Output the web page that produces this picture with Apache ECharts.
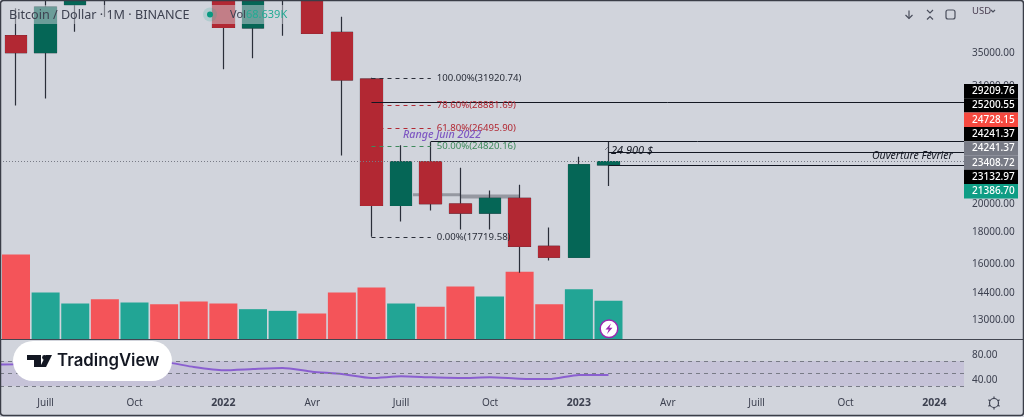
<!DOCTYPE html>
<html>
<head>
<meta charset="utf-8">
<style>
  html, body { margin: 0; padding: 0; background: #d1d4dc; }
  #chart { width: 1024px; height: 417px; }
</style>
<script src="https://cdn.jsdelivr.net/npm/echarts@6/dist/echarts.min.js"></script>
</head>
<body>
<div id="chart"></div>
<script>
// month index 0 = June 2021, one candle per month
const openValues  = [37300, 35045, 41840, 47100, 43800, 61300, 56900, 46200, 38400, 43160, 45500, 37750, 31760, 19900, 23390, 20010, 19350, 20430, 17110, 16430, 23132.97];
const closeValues = [35040, 41460, 47100, 43800, 61300, 56900, 46200, 38460, 43160, 45500, 37630, 31670, 19900, 23390, 20030, 19350, 20430, 17110, 16430, 23132.97, 23408.72];
const lowValues   = [28800, 29560, 37860, 39980, 43000, 53000, 42800, 32960, 34320, 37300, 37600, 23950, 17720, 18760, 19540, 18200, 18200, 15510, 16240, 16430, 21386.7];
const highValues  = [41300, 42450, 50500, 52900, 67000, 69000, 59000, 47900, 45800, 48200, 47400, 40000, 31920, 24870, 25200, 22890, 21030, 21490, 18350, 23840, 25200.55];
const volumeValues = [151.1, 83.6, 64, 71.7, 65.8, 62.8, 67.6, 64, 53.9, 50.9, 46.2, 83.6, 92.5, 64, 58, 94.2, 76.5, 120.2, 62.8, 89.4, 68.639];
// starts one month before the first candle
const rsiValues = [64, 64.6, 66, 68, 66, 70, 68.5, 60.3, 55, 57, 58.7, 52.8, 49, 42.7, 45.4, 43.8, 42.7, 43.8, 41.6, 41, 47.5, 47.5];

const monthTicks = [1, 4, 7, 10, 13, 16, 19, 22, 25, 28, 31];
const monthLabels = ['Juill', 'Oct', '2022', 'Avr', 'Juill', 'Oct', '2023', 'Avr', 'Juill', 'Oct', '2024'];
const priceTicks = [13000, 14400, 16000, 18000, 20000, 31000, 35000];
const rsiTicks = [40, 80];
const rsiGuides = [70, 50, 30];

const fibPrices = [31920.74, 28881.69, 26495.90, 24820.16, 17719.58];
const fibNames = ['100.00%', '78.60%', '61.80%', '50.00%', '0.00%'];
const fibColors = ['#2a2e39', '#b22833', '#b22833', '#3f8a5c', '#2a2e39'];

const levelPrices = [29209.76, 25200.55, 24241.37, 23132.97];
const levelStarts = [12, 14, 20, 20];
const lastPrice = 23408.72;

const tagTexts = ['29209.76', '25200.55', '24728.15', '24241.37', '24241.37', '23408.72', '23132.97', '21386.70'];
const tagColors = ['#000000', '#000000', '#f6493f', '#000000', '#787b86', '#787b86', '#000000', '#0e9d85'];

const font = '"Noto Sans", sans-serif';
const axisColor = '#3d4150';
const bull = '#056656', bear = '#b22833';
const volUp = '#22a595', volDown = '#f45459';

const months = volumeValues.map((v, i) => i);
const isUp = i => closeValues[i] >= openValues[i];

const wickData = months.map(i => [i, openValues[i], closeValues[i], lowValues[i], highValues[i]]);
const bodyData = months.map(i => {
    const top = Math.max(openValues[i], closeValues[i]);
    const bot = Math.min(openValues[i], closeValues[i]);
    return [i, openValues[i], closeValues[i], bot, top];
});

const chart = echarts.init(document.getElementById('chart'));

const mainGrid = { left: 0, top: 0, width: 964, height: 339.5 };

// horizontal levels + fib, all behind the candle bodies
const markLines = [];
levelPrices.forEach((p, i) => {
    markLines.push([
        { coord: [levelStarts[i], p], lineStyle: { color: '#131722', width: 1, type: 'solid' }, label: { show: false } },
        { coord: [32, p] }
    ]);
});
markLines.push([
    { coord: [-0.54, lastPrice], lineStyle: { color: '#787b86', width: 1, type: [1, 2] }, label: { show: false } },
    { coord: [32, lastPrice] }
]);
fibPrices.forEach((p, i) => {
    markLines.push([
        {
            coord: [12, p],
            lineStyle: { color: fibColors[i], width: 1, type: [4, 4] },
            label: {
                show: true, position: 'end', distance: 6, color: fibColors[i], fontSize: 9.6, fontFamily: font,
                formatter: fibNames[i] + '(' + p.toFixed(2) + ')'
            }
        },
        { coord: [14, p] }
    ]);
});

const graphics = [];

// legend veil + text
graphics.push({ type: 'rect', z: 50, shape: { x: 4, y: 5, width: 280, height: 19 }, style: { fill: 'rgba(209,212,220,0.5)' } });
graphics.push({ type: 'text', z: 51, x: 9, y: 15, style: { text: 'Bitcoin / Dollar · 1M · BINANCE', fill: '#3d4150', font: '12.6px ' + font, verticalAlign: 'middle' } });
graphics.push({ type: 'circle', z: 51, shape: { cx: 210, cy: 14.5, r: 7 }, style: { fill: 'rgba(34,171,148,0.18)' } });
graphics.push({ type: 'circle', z: 51, shape: { cx: 210, cy: 14.5, r: 3 }, style: { fill: '#089981' } });
graphics.push({ type: 'text', z: 51, x: 230, y: 15, style: { text: 'Vol', fill: '#3d4150', font: '11px ' + font, verticalAlign: 'middle' } });
graphics.push({ type: 'text', z: 51, x: 246, y: 15, style: { text: '68.639K', fill: '#22ab94', font: '11px ' + font, verticalAlign: 'middle' } });

// notes drawn on the chart
graphics.push({ type: 'text', z: 51, x: 403, y: 134.5, style: { text: 'Range Juin 2022', fill: '#7e57c2', font: 'italic 500 10.7px ' + font, verticalAlign: 'middle' } });
graphics.push({ type: 'text', z: 51, x: 611, y: 151, style: { text: '24 900 $', fill: '#131722', font: 'italic 11px ' + font, verticalAlign: 'middle' } });
graphics.push({ type: 'text', z: 51, x: 872, y: 156.5, style: { text: 'Ouverture Février', fill: '#131722', font: 'italic 10.5px ' + font, verticalAlign: 'middle' } });
graphics.push({ type: 'line', z: 51, shape: { x1: 605, y1: 150, x2: 608, y2: 147 }, style: { stroke: '#787b86', lineWidth: 1 } });

// price tags on the right
tagTexts.forEach((t, i) => {
    graphics.push({ type: 'rect', z: 60, shape: { x: 964, y: 84 + i * 14.3, width: 54, height: 14.3 }, style: { fill: tagColors[i] } });
    graphics.push({ type: 'text', z: 61, x: 972, y: 91.3 + i * 14.3, style: { text: t, fill: '#ffffff', font: '500 10px ' + font, verticalAlign: 'middle' } });
});

// TradingView badge
graphics.push({ type: 'rect', z: 70, shape: { x: 13, y: 341, width: 159, height: 40, r: 20 }, style: { fill: '#ffffff' } });
graphics.push({ type: 'polygon', z: 71, shape: { points: [[27, 355], [41, 355], [41, 367], [34, 367], [34, 360], [27, 360]] }, style: { fill: '#131722' } });
graphics.push({ type: 'circle', z: 71, shape: { cx: 44.5, cy: 357.5, r: 2.4 }, style: { fill: '#131722' } });
graphics.push({ type: 'polygon', z: 71, shape: { points: [[46, 355], [52, 355], [46, 367], [40, 367]] }, style: { fill: '#131722' } });
graphics.push({ type: 'text', z: 71, x: 57, y: 361, style: { text: 'TradingView', fill: '#131722', font: '600 16.8px Inter, sans-serif', verticalAlign: 'middle' } });

// lightning badge on last volume bar
graphics.push({ type: 'circle', z: 40, shape: { cx: 609, cy: 328.7, r: 8.8 }, style: { fill: '#ffffff', stroke: '#9c27b0', lineWidth: 1.5 } });
graphics.push({ type: 'polygon', z: 41, shape: { points: [[611, 323.5], [605.5, 329.5], [608.7, 329.5], [607, 334], [612.5, 327.8], [609.3, 327.8]] }, style: { fill: '#9c27b0' } });

// top right toolbar
graphics.push({ type: 'polyline', z: 51, shape: { points: [[909, 10.5], [909, 18.5]] }, style: { stroke: '#4a4e5c', lineWidth: 1.2, fill: null } });
graphics.push({ type: 'polyline', z: 51, shape: { points: [[905.5, 15], [909, 18.5], [912.5, 15]] }, style: { stroke: '#4a4e5c', lineWidth: 1.2, fill: null } });
graphics.push({ type: 'polyline', z: 51, shape: { points: [[927, 10], [930, 13], [933, 10]] }, style: { stroke: '#4a4e5c', lineWidth: 1.2, fill: null } });
graphics.push({ type: 'polyline', z: 51, shape: { points: [[927, 19.5], [930, 16.5], [933, 19.5]] }, style: { stroke: '#4a4e5c', lineWidth: 1.2, fill: null } });
graphics.push({ type: 'rect', z: 51, shape: { x: 946, y: 10, width: 9, height: 9, r: 2 }, style: { stroke: '#4a4e5c', lineWidth: 1.2, fill: null } });
graphics.push({ type: 'text', z: 51, x: 972, y: 11, style: { text: 'USD', fill: '#4a3d50', font: '9.5px ' + font, verticalAlign: 'middle' } });
graphics.push({ type: 'polyline', z: 51, shape: { points: [[991, 10], [993, 12], [995, 10]] }, style: { stroke: '#4a4e5c', lineWidth: 1.2, fill: null } });

// settings gear
graphics.push({ type: 'circle', z: 51, shape: { cx: 994, cy: 403, r: 4.5 }, style: { stroke: '#3d4150', lineWidth: 1.2, fill: null } });
[0, 60, 120, 180, 240, 300].forEach(a => {
    const r = a * Math.PI / 180;
    graphics.push({
        type: 'line', z: 51,
        shape: { x1: 994 + Math.sin(r) * 4.5, y1: 403 - Math.cos(r) * 4.5, x2: 994 + Math.sin(r) * 6.5, y2: 403 - Math.cos(r) * 6.5 },
        style: { stroke: '#3d4150', lineWidth: 1.2 }
    });
});

// pane separator and frame
graphics.push({ type: 'line', z: 30, shape: { x1: 0, y1: 339.5, x2: 1024, y2: 339.5 }, style: { stroke: '#434651', lineWidth: 1 } });
graphics.push({ type: 'rect', z: 90, shape: { x: 0.5, y: 0.5, width: 1023, height: 415, r: 3 }, style: { stroke: '#3a3d47', lineWidth: 1.5, fill: null } });

const option = {
    backgroundColor: '#d1d4dc',
    animation: false,
    grid: [
        mainGrid,
        { left: 0, top: 0, width: 964, height: 339.5 },
        { left: 0, top: 340, width: 964, height: 52 }
    ],
    xAxis: [0, 1, 2].map(g => ({
        type: 'value',
        gridIndex: g,
        min: -0.54,
        max: 32,
        show: g === 2,
        splitLine: { show: false },
        axisLine: { show: false },
        axisTick: { show: false },
        axisLabel: {
            show: g === 2,
            customValues: monthTicks,
            margin: 6,
            color: axisColor,
            fontSize: 10,
            fontFamily: font,
            formatter: function (value) {
                const text = monthLabels[monthTicks.indexOf(value)];
                return /^\d+$/.test(text) ? '{year|' + text + '}' : text;
            },
            rich: { year: { fontWeight: 'bold', fontSize: 10.5, color: axisColor, fontFamily: font } }
        }
    })),
    yAxis: [
        {
            type: 'log',
            gridIndex: 0,
            position: 'right',
            min: 12118,
            max: 42570,
            splitLine: { show: false },
            axisLine: { show: false },
            axisTick: { show: false },
            axisLabel: {
                customValues: priceTicks,
                margin: 8,
                color: axisColor,
                fontSize: 10,
                fontFamily: font,
                formatter: v => Number(v).toFixed(2)
            }
        },
        {
            type: 'value',
            gridIndex: 1,
            min: 0,
            max: 603.3,
            show: false,
            splitLine: { show: false }
        },
        {
            type: 'value',
            gridIndex: 2,
            position: 'right',
            min: 20.3,
            max: 103.5,
            splitLine: { show: false },
            axisLine: { show: false },
            axisTick: { show: false },
            axisLabel: {
                customValues: rsiTicks,
                margin: 8,
                color: axisColor,
                fontSize: 10,
                fontFamily: font,
                formatter: v => Number(v).toFixed(2)
            }
        }
    ],
    series: [
        {
            name: 'Vol',
            type: 'bar',
            xAxisIndex: 1,
            yAxisIndex: 1,
            z: 1,
            barWidth: 28,
            data: months.map(i => ({
                value: [i, volumeValues[i]],
                itemStyle: { color: isUp(i) ? volUp : volDown }
            }))
        },
        {
            name: 'Range',
            type: 'line',
            xAxisIndex: 0,
            yAxisIndex: 0,
            z: 2,
            symbol: 'none',
            lineStyle: { color: '#9598a1', width: 3 },
            data: [[13.4, 20710], [15, 20710]]
        },
        {
            name: 'Range 2',
            type: 'line',
            xAxisIndex: 0,
            yAxisIndex: 0,
            z: 2,
            symbol: 'none',
            lineStyle: { color: '#9598a1', width: 4 },
            data: [[15, 20580], [17, 20580]]
        },
        {
            name: 'BTC wicks',
            type: 'candlestick',
            xAxisIndex: 0,
            yAxisIndex: 0,
            z: 3,
            barWidth: 22,
            encode: { x: 0, y: [1, 2, 3, 4] },
            itemStyle: { color: '#2a2e39', color0: '#2a2e39', borderColor: '#2a2e39', borderColor0: '#2a2e39', borderWidth: 1.2 },
            markLine: { silent: true, symbol: 'none', animation: false, data: markLines },
            data: wickData
        },
        {
            name: 'BTC',
            type: 'candlestick',
            xAxisIndex: 0,
            yAxisIndex: 0,
            z: 4,
            barWidth: 22,
            encode: { x: 0, y: [1, 2, 3, 4] },
            itemStyle: { color: bull, color0: bear, borderColor: bull, borderColor0: bear, borderWidth: 1 },
            data: bodyData
        },
        {
            name: 'RSI',
            type: 'line',
            xAxisIndex: 2,
            yAxisIndex: 2,
            z: 3,
            symbol: 'none',
            smooth: 0.2,
            lineStyle: { color: '#8a5fd0', width: 2 },
            data: rsiValues.map((v, i) => [i - 1, v]),
            markArea: {
                silent: true,
                itemStyle: { color: 'rgba(126,87,194,0.13)' },
                data: [[{ coord: [-0.54, rsiGuides[0]] }, { coord: [32, rsiGuides[2]] }]]
            },
            markLine: {
                silent: true,
                symbol: 'none',
                label: { show: false },
                lineStyle: { color: '#787b86', width: 1, type: [4, 4] },
                data: rsiGuides.map(v => ({ yAxis: v }))
            }
        }
    ],
    graphic: { elements: graphics }
};

chart.setOption(option);
</script>
</body>
</html>
